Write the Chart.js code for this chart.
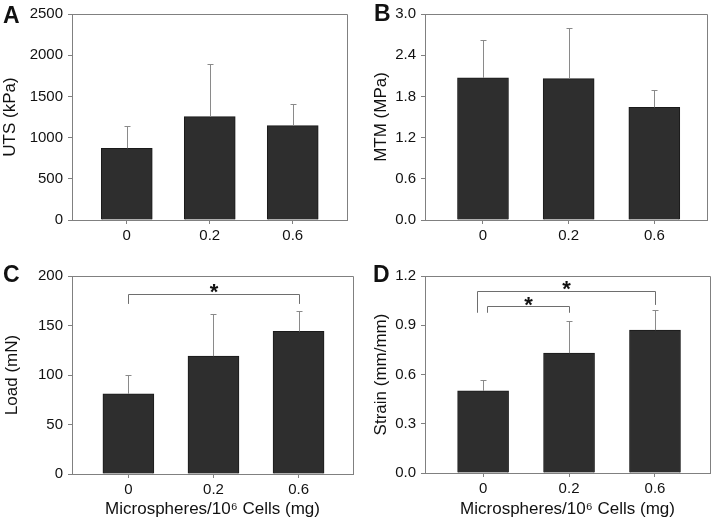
<!DOCTYPE html>
<html>
<head>
<meta charset="utf-8">
<script src="https://cdn.jsdelivr.net/npm/chart.js@4"></script>
<style>
  body { margin: 0; background: #fff; }
  #wrap { position: relative; width: 714px; height: 524px; }
  canvas { position: absolute; }
</style>
</head>
<body>
<div id="wrap">
  <canvas id="chartA" width="357" height="262" style="left:0;top:0"></canvas>
  <canvas id="chartB" width="357" height="262" style="left:357px;top:0"></canvas>
  <canvas id="chartC" width="357" height="262" style="left:0;top:262px"></canvas>
  <canvas id="chartD" width="357" height="262" style="left:357px;top:262px"></canvas>
</div>
<script>
// microsphere dose groups
const doses = ['0', '0.2', '0.6'];

const utsMean = [870, 1255, 1145];
const utsSd = [275, 640, 265];
const mtmMean = [2.07, 2.06, 1.64];
const mtmSd = [0.55, 0.74, 0.26];
const loadMean = [81, 119, 144];
const loadSd = [19.5, 42.5, 21];
const strainMean = [0.50, 0.73, 0.87];
const strainSd = [0.065, 0.195, 0.125];

// significance brackets: group span, bar level, leg ends, star level
const loadBrackets = [{ from: 0, to: 2, y: 182, legs: [171.8, 171.8], star: 190 }];
const strainBrackets = [
  { from: -0.07, to: 2, y: 1.107, legs: [0.976, 1.024], star: 1.155 },
  { from: 0.04, to: 1, y: 1.016, legs: [0.976, 0.976], star: 1.059 },
];

const FONT = '"Liberation Sans", Arial, sans-serif';
const AXIS = '#808080';

const extras = {
  id: 'extras',
  afterDatasetsDraw(chart, args, opts) {
    const { ctx, chartArea: a, scales: { x, y } } = chart;
    ctx.save();
    ctx.lineWidth = 1;

    // upper error bars
    ctx.strokeStyle = '#8a8a8a';
    chart.data.datasets[0].data.forEach((d, i) => {
      const px = Math.round(x.getPixelForValue(d.x)) + 0.5;
      const base = y.getPixelForValue(d.y);
      const top = Math.round(y.getPixelForValue(d.y + opts.sd[i])) + 0.5;
      ctx.beginPath();
      ctx.moveTo(px, base); ctx.lineTo(px, top);
      ctx.moveTo(px - 3, top); ctx.lineTo(px + 3, top);
      ctx.stroke();
    });

    // top and right of the frame
    ctx.strokeStyle = AXIS;
    ctx.beginPath();
    ctx.moveTo(Math.round(a.left), Math.round(a.top) + 0.5);
    ctx.lineTo(Math.round(a.right) + 0.5, Math.round(a.top) + 0.5);
    ctx.lineTo(Math.round(a.right) + 0.5, Math.round(a.bottom));
    ctx.stroke();

    // brackets
    ctx.strokeStyle = '#6e6e6e';
    ctx.fillStyle = '#111';
    ctx.font = 'bold 22px ' + FONT;
    ctx.textAlign = 'center';
    ctx.textBaseline = 'alphabetic';
    (opts.brackets || []).forEach(b => {
      const x0 = Math.round(x.getPixelForValue(b.from)) + 0.5;
      const x1 = Math.round(x.getPixelForValue(b.to)) + 0.5;
      const yb = Math.round(y.getPixelForValue(b.y)) + 0.5;
      ctx.beginPath();
      ctx.moveTo(x0, y.getPixelForValue(b.legs[0]));
      ctx.lineTo(x0, yb); ctx.lineTo(x1, yb);
      ctx.lineTo(x1, y.getPixelForValue(b.legs[1]));
      ctx.stroke();
      ctx.fillText('*', (x0 + x1) / 2, y.getPixelForValue(b.star) + 13);
    });

    // panel letter
    ctx.textAlign = 'left';
    ctx.font = 'bold 23px ' + FONT;
    ctx.fillText(opts.letter, opts.lx, opts.ly);
    ctx.restore();
  }
};

function makePanel(id, p) {
  return new Chart(document.getElementById(id), {
    type: 'bar',
    data: {
      datasets: [{
        data: p.mean.map((v, i) => ({ x: i, y: v })),
        backgroundColor: '#2e2e2e',
        borderColor: '#1a1a1a',
        borderWidth: 1,
        barThickness: 51,
      }]
    },
    options: {
      responsive: false,
      animation: false,
      layout: { padding: { top: p.top, right: p.right, left: 0, bottom: 0 } },
      plugins: {
        legend: { display: false },
        tooltip: { enabled: false },
        extras: { sd: p.sd, brackets: p.brackets, letter: p.letter, lx: p.lx, ly: p.ly },
      },
      scales: {
        x: {
          type: 'linear',
          offset: false,
          min: p.xmin,
          max: p.xmax,
          afterBuildTicks: s => { s.ticks = doses.map((_, i) => ({ value: i })); },
          afterFit: s => { s.height = p.xh; },
          grid: { display: true, offset: false, drawOnChartArea: false, tickLength: 4, color: AXIS },
          border: { color: AXIS },
          ticks: { padding: 3, color: '#111', font: { family: FONT, size: 15 }, callback: v => doses[v] },
          title: {
            display: !!p.xtitle,
            text: p.xtitle,
            color: '#111',
            font: { family: FONT, size: 17 },
            padding: { top: 0, bottom: 4 },
          },
        },
        y: {
          min: 0,
          max: p.ymax,
          afterFit: s => { s.width = p.yw; },
          grid: { display: true, drawOnChartArea: false, tickLength: 4, color: AXIS },
          border: { color: AXIS },
          ticks: {
            stepSize: p.step,
            padding: 5,
            color: '#111',
            font: { family: FONT, size: 15 },
            callback: v => p.dec ? v.toFixed(p.dec) : v,
          },
          title: {
            display: true,
            text: p.ytitle,
            color: '#111',
            font: { family: FONT, size: 17 },
            padding: { top: p.tpad, bottom: 0 },
          },
        },
      },
    },
    plugins: [extras],
  });
}

const xTitle = 'Microspheres/10\u2076 Cells (mg)';

makePanel('chartA', {
  mean: utsMean, sd: utsSd, letter: 'A', lx: 3, ly: 23,
  ymax: 2500, step: 500, dec: 0, ytitle: 'UTS (kPa)', tpad: 0,
  top: 6, right: 10, yw: 72, xh: 42, xmin: -0.66, xmax: 2.654,
});
makePanel('chartB', {
  mean: mtmMean, sd: mtmSd, letter: 'B', lx: 17, ly: 21,
  ymax: 3.0, step: 0.6, dec: 1, ytitle: 'MTM (MPa)', tpad: 14,
  top: 6, right: 7, yw: 68, xh: 42, xmin: -0.677, xmax: 2.615,
});
makePanel('chartC', {
  mean: loadMean, sd: loadSd, brackets: loadBrackets, letter: 'C', lx: 3, ly: 20,
  ymax: 200, step: 50, dec: 0, ytitle: 'Load (mN)', tpad: 2, xtitle: xTitle,
  top: 4, right: 4, yw: 72, xh: 50, xmin: -0.663, xmax: 2.64,
});
makePanel('chartD', {
  mean: strainMean, sd: strainSd, brackets: strainBrackets, letter: 'D', lx: 16, ly: 20,
  ymax: 1.2, step: 0.3, dec: 1, ytitle: 'Strain (mm/mm)', tpad: 14, xtitle: xTitle,
  top: 4, right: 4, yw: 68, xh: 51, xmin: -0.676, xmax: 2.64,
});
</script>
</body>
</html>
